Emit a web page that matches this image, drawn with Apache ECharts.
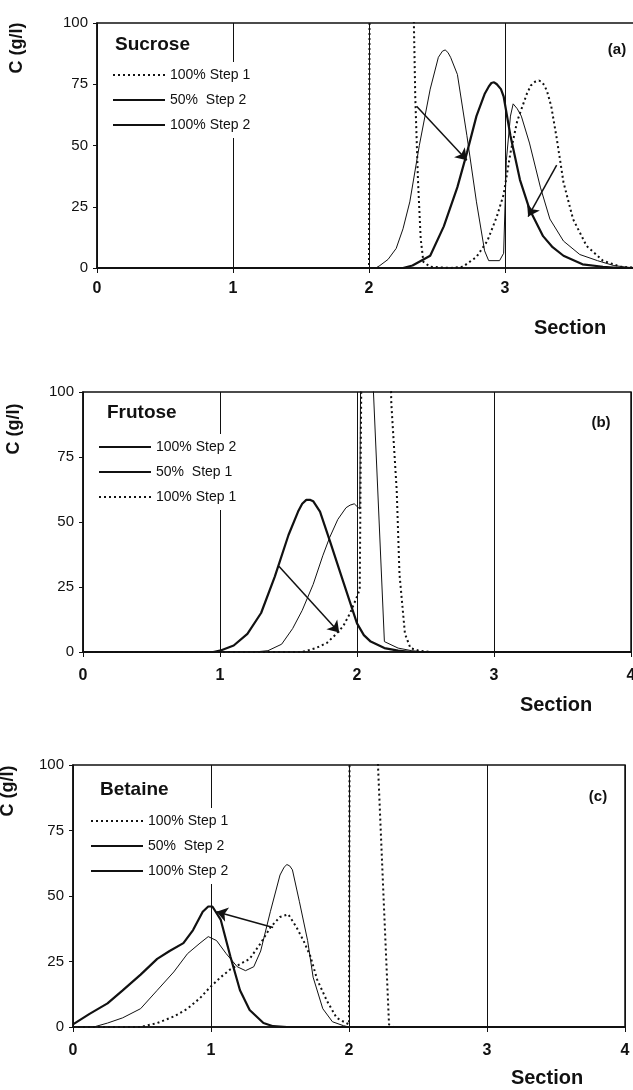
<!DOCTYPE html>
<html>
<head>
<meta charset="utf-8">
<script src="https://cdn.jsdelivr.net/npm/echarts@6/dist/echarts.min.js"></script>
<style>
  html, body { margin: 0; padding: 0; background: #fff; }
  #main { width: 633px; height: 1090px; }
</style>
</head>
<body>
<div id="main"></div>
<script>
// axis ticks (same for all three panels)
var xTicks = [0, 1, 2, 3, 4];
var yTicks = [0, 25, 50, 75, 100];

// (a) Sucrose  -- [section, C g/l], values above 100 are clipped by the axis
var sucStep1 = [[0,0],[2.0,0],[2.005,130],[2.32,130],[2.33,100],[2.34,70],[2.36,36],[2.38,12],[2.40,2.5],[2.45,0.5],[2.6,0],[2.69,0.5],[2.79,4.5],[2.87,11],[2.94,21],[2.99,30],[3.04,47],[3.09,60],[3.16,71],[3.19,74.5],[3.22,76],[3.25,76.5],[3.27,76],[3.29,74.5],[3.31,72],[3.34,66],[3.38,53],[3.43,35],[3.5,20],[3.6,9],[3.72,3],[3.85,0.5],[4,0]];
var sucHalfStep2 = [[0,0],[2.05,0],[2.08,1],[2.14,3.5],[2.2,8],[2.25,16],[2.3,27],[2.37,50],[2.45,73],[2.51,86],[2.54,88.5],[2.56,89],[2.58,88],[2.6,86],[2.65,79],[2.72,54],[2.79,27],[2.85,7],[2.88,3],[2.96,3],[2.99,6],[3.01,44],[3.04,62],[3.06,67],[3.09,65],[3.12,62],[3.18,51],[3.26,33],[3.33,20],[3.43,11],[3.55,5.5],[3.68,3],[3.8,1],[3.9,0.3],[4,0]];
var sucStep2 = [[0,0],[2.25,0],[2.32,1],[2.45,5],[2.55,17],[2.65,33],[2.72,47],[2.79,62],[2.85,71],[2.88,74],[2.9,75.5],[2.92,75.8],[2.94,75],[2.97,73],[2.99,70],[3.04,54],[3.11,36],[3.18,24],[3.28,13],[3.35,8.5],[3.43,5],[3.57,1.5],[3.72,0.5],[3.85,0],[4,0]];
var sucArrows = [[[2.35,66],[2.72,44]], [[3.38,42],[3.17,21]]];

// (b) Frutose
var fruStep2 = [[0,0],[0.95,0],[1.0,0.5],[1.1,2.5],[1.2,7],[1.3,15],[1.4,29],[1.5,45],[1.57,54],[1.6,57],[1.63,58.5],[1.66,58.5],[1.68,58],[1.73,54],[1.8,43],[1.9,27],[2.0,11],[2.05,6.5],[2.1,4],[2.2,1.5],[2.3,0.5],[2.4,0],[4,0]];
var fruHalfStep1 = [[0,0],[1.25,0],[1.35,0.5],[1.45,3],[1.53,9],[1.6,16],[1.68,26],[1.75,37],[1.8,44],[1.86,51],[1.92,55.5],[1.95,56.5],[1.98,57],[2.02,55],[2.03,130],[2.11,130],[2.12,100],[2.2,4],[2.3,1.5],[2.4,0.5],[2.5,0],[4,0]];
var fruStep1 = [[0,0],[1.6,0],[1.7,1.5],[1.78,3.5],[1.85,7],[1.9,10],[1.95,15],[1.99,20],[2.02,24],[2.035,130],[2.24,130],[2.25,96],[2.29,62],[2.31,30],[2.35,7],[2.39,1.5],[2.45,0.5],[2.55,0],[4,0]];
var fruArrows = [[[1.43,33],[1.87,7.5]]];

// (c) Betaine
var betStep1 = [[0,0],[0.49,0],[0.61,1.5],[0.73,4],[0.83,7],[0.92,11],[0.99,15],[1.07,19],[1.14,22],[1.21,24],[1.28,26],[1.36,32],[1.43,38],[1.5,42],[1.56,43],[1.62,38],[1.67,33],[1.72,27],[1.77,18],[1.84,10],[1.91,3.5],[1.98,1.5],[2.0,1],[2.005,130],[2.2,130],[2.21,100],[2.25,50],[2.29,1],[2.32,0],[4,0]];
var betHalfStep2 = [[0,0],[0.15,0],[0.25,1.5],[0.36,3.5],[0.49,7],[0.61,14],[0.73,21],[0.83,28],[0.92,32],[0.98,34.5],[1.04,33],[1.11,28],[1.19,23],[1.25,21.5],[1.31,23],[1.36,29],[1.43,44],[1.5,58],[1.53,61],[1.55,62],[1.57,61.5],[1.59,60],[1.64,48],[1.7,33],[1.74,19],[1.81,7],[1.88,2],[1.96,0.5],[2.0,0],[4,0]];
var betStep2 = [[0,1],[0.12,5],[0.25,9],[0.36,14],[0.49,20],[0.61,26],[0.7,29],[0.8,32],[0.87,37],[0.94,44],[0.98,46],[1.01,46],[1.07,41],[1.14,27],[1.21,14],[1.28,6.5],[1.38,1.5],[1.45,0.3],[1.55,0],[4,0]];
var betArrows = [[[1.45,38],[1.04,44]]];

var ink = '#111';
var font = 'Liberation Sans, Arial, sans-serif';

// panel placement in pixels
var panels = [
  { title: 'Sucrose', tag: '(a)', grid: { left: 97, top: 23, width: 544, height: 245 }, labelMargin: 13,
    legendTop: 62, legendLeft: 108, cLabel: [17, 48], tagPos: [617, 50], sectionPos: [570, 328], titlePos: [115, 45],
    series: [['100% Step 1', sucStep1, 'dot'], ['50%  Step 2', sucHalfStep2, 'thin'], ['100% Step 2', sucStep2, 'thick']],
    arrows: sucArrows },
  { title: 'Frutose', tag: '(b)', grid: { left: 83, top: 392, width: 548, height: 260 }, labelMargin: 16,
    legendTop: 434, legendLeft: 94, cLabel: [14, 429], tagPos: [601, 423], sectionPos: [556, 705], titlePos: [107, 413],
    series: [['100% Step 2', fruStep2, 'thick'], ['50%  Step 1', fruHalfStep1, 'thin'], ['100% Step 1', fruStep1, 'dot']],
    arrows: fruArrows },
  { title: 'Betaine', tag: '(c)', grid: { left: 73, top: 765, width: 552, height: 262 }, labelMargin: 16,
    legendTop: 808, legendLeft: 86, cLabel: [8, 791], tagPos: [598, 797], sectionPos: [547, 1078], titlePos: [100, 790],
    series: [['100% Step 1', betStep1, 'dot'], ['50%  Step 2', betHalfStep2, 'thin'], ['100% Step 2', betStep2, 'thick']],
    arrows: betArrows }
];

var option = {
  animation: false,
  backgroundColor: '#fff',
  textStyle: { fontFamily: font, color: ink },
  grid: [], xAxis: [], yAxis: [], legend: [], series: [], graphic: []
};

panels.forEach(function (p, i) {
  option.grid.push({
    left: p.grid.left, top: p.grid.top, width: p.grid.width, height: p.grid.height,
    outerBoundsMode: 'none', containLabel: false,
    show: true, borderColor: ink, borderWidth: 1.5, backgroundColor: 'transparent'
  });
  option.xAxis.push({
    type: 'value', gridIndex: i, min: xTicks[0], max: xTicks[xTicks.length - 1], interval: 1,
    axisLine: { lineStyle: { color: ink, width: 1.5 } },
    axisTick: { show: true, length: 5, lineStyle: { color: ink } },
    axisLabel: { color: ink, fontSize: 16, fontWeight: 'bold', margin: p.labelMargin, fontFamily: font },
    splitLine: { show: true, lineStyle: { color: ink, width: 1 } }
  });
  option.yAxis.push({
    type: 'value', gridIndex: i, min: yTicks[0], max: yTicks[yTicks.length - 1], interval: 25,
    axisLine: { show: true, lineStyle: { color: ink, width: 1.5 } },
    axisTick: { show: true, length: 4, lineStyle: { color: ink } },
    axisLabel: { color: ink, fontSize: 15, margin: 9, fontFamily: font },
    splitLine: { show: false }
  });
  option.legend.push({
    data: p.series.map(function (s) { return s[0]; }),
    orient: 'vertical', left: p.legendLeft, top: p.legendTop,
    itemWidth: 52, itemHeight: 14, itemGap: 11,
    backgroundColor: '#fff', padding: [6, 6, 6, 4],
    selectedMode: false,
    itemStyle: { color: 'rgba(0,0,0,0)', borderWidth: 0, opacity: 0 },
    textStyle: { fontSize: 14, color: ink, fontFamily: font }
  });
  p.series.forEach(function (s) {
    var ls = { color: ink, width: 1, type: 'solid' };
    if (s[2] === 'thick') ls.width = 2.2;
    if (s[2] === 'dot') { ls.width = 2; ls.type = [2, 3]; }
    var ser = {
      name: s[0], type: 'line', xAxisIndex: i, yAxisIndex: i, data: s[1],
      symbol: 'none', showSymbol: false, clip: true,
      lineStyle: ls, itemStyle: { color: ink }, z: 3
    };
    if (s[2] === 'thick') {
      ser.markLine = {
        silent: true, symbol: ['none', 'arrow'], symbolSize: 11,
        lineStyle: { color: ink, width: 1.5, type: 'solid' },
        label: { show: false },
        data: p.arrows.map(function (a) { return [{ coord: a[0] }, { coord: a[1] }]; })
      };
    }
    option.series.push(ser);
  });
  option.graphic.push(
    { type: 'text', x: p.titlePos[0], y: p.titlePos[1], z: 10,
      style: { text: p.title, font: 'bold 19px ' + font, fill: ink, textVerticalAlign: 'middle' } },
    { type: 'text', x: p.tagPos[0], y: p.tagPos[1], z: 10,
      style: { text: p.tag, font: 'bold 15px ' + font, fill: ink, textAlign: 'center', textVerticalAlign: 'middle' } },
    { type: 'text', x: p.cLabel[0], y: p.cLabel[1], rotation: Math.PI / 2, z: 10,
      style: { text: 'C (g/l)', font: 'bold 18px ' + font, fill: ink, textAlign: 'center', textVerticalAlign: 'middle' } },
    { type: 'text', x: p.sectionPos[0], y: p.sectionPos[1], z: 10,
      style: { text: 'Section', font: 'bold 20px ' + font, fill: ink, textAlign: 'center', textVerticalAlign: 'middle' } }
  );
});

var chart = echarts.init(document.getElementById('main'));
chart.setOption(option);
</script>
</body>
</html>
